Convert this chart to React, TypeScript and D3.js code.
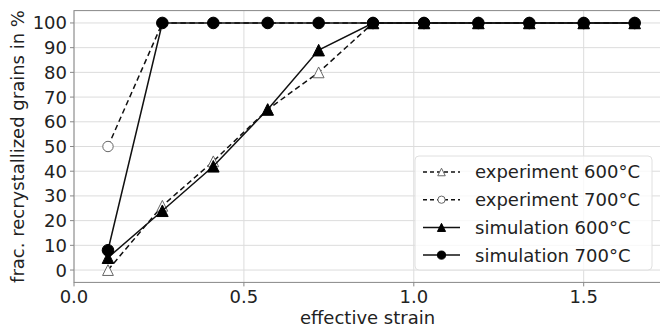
import * as d3 from "d3";

// ── Data ──────────────────────────────────────────────────────
const strain = [0.1, 0.26, 0.41, 0.57, 0.72, 0.88, 1.03, 1.19, 1.34, 1.5, 1.65];
const exp600 = [0, 26, 44, 65, 80, 100, 100, 100, 100, 100, 100];
const exp700 = [50, 100, 100, 100, 100, 100, 100, 100, 100, 100, 100];
const sim600 = [5, 24, 42, 65, 89, 100, 100, 100, 100, 100, 100];
const sim700 = [8, 100, 100, 100, 100, 100, 100, 100, 100, 100, 100];

const xTicks = [0, 0.5, 1.0, 1.5];
const yTicks = [0, 10, 20, 30, 40, 50, 60, 70, 80, 90, 100];

type Series = {
  label: string;
  values: number[];
  dashed: boolean;
  marker: "tri" | "circle";
  filled: boolean;
};

const series: Series[] = [
  { label: "experiment 600°C", values: exp600, dashed: true, marker: "tri", filled: false },
  { label: "experiment 700°C", values: exp700, dashed: true, marker: "circle", filled: false },
  { label: "simulation 600°C", values: sim600, dashed: false, marker: "tri", filled: true },
  { label: "simulation 700°C", values: sim700, dashed: false, marker: "circle", filled: true },
];

// ── Layout ────────────────────────────────────────────────────
const W = 660, H = 329;
const M = { left: 74, right: 661, top: 10.6, bottom: 282.4 };
const FONT = "DejaVu Sans, sans-serif";
const FS = 18;

const x = d3.scaleLinear().domain([0, 1.7275]).range([M.left, M.right]);
const y = d3.scaleLinear().domain([-5, 105]).range([M.bottom, M.top]);

const line = d3.line<number>().x((_d, i) => x(strain[i])).y((d) => y(d));

function Marker({ cx, cy, s, k = 1 }: { cx: number; cy: number; s: Series; k?: number }) {
  const fill = s.filled ? "#000" : "#fff";
  const stroke = s.filled ? "#000" : "#666";
  if (s.marker === "circle")
    return <circle cx={cx} cy={cy} r={(s.filled ? 5.8 : 5.2) * k} fill={fill} stroke={stroke} strokeWidth={1} />;
  const r = (s.filled ? 5.8 : 5.4) * k;
  const d = `M${cx},${cy - r}L${cx + r},${cy + r}L${cx - r},${cy + r}Z`;
  return <path d={d} fill={fill} stroke={stroke} strokeWidth={1} strokeLinejoin="miter" />;
}

export default function App() {
  const legendX = 415, legendY = 156, legendW = 237, legendH = 114;
  const rowY = (i: number) => legendY + 16 + i * 27.7;

  return (
    <svg width={W} height={H} style={{ position: "absolute", left: 0, top: 0, background: "#fff" }}
      fontFamily={FONT}>
      {/* grid */}
      {xTicks.map((t) => (
        <line key={"gx" + t} x1={x(t)} x2={x(t)} y1={M.top} y2={M.bottom} stroke="#dcdcdc" strokeWidth={1} />
      ))}
      {yTicks.map((t) => (
        <line key={"gy" + t} x1={M.left} x2={M.right} y1={y(t)} y2={y(t)} stroke="#dcdcdc" strokeWidth={1} />
      ))}

      {/* series */}
      {series.map((s) => (
        <g key={s.label}>
          <path d={line(s.values) ?? ""} fill="none" stroke="#111" strokeWidth={1.5}
            strokeDasharray={s.dashed ? "5.5,3.5" : undefined} />
          {s.values.map((v, i) => (
            <Marker key={i} cx={x(strain[i])} cy={y(v)} s={s} />
          ))}
        </g>
      ))}

      {/* spines */}
      <rect x={M.left} y={M.top} width={M.right - M.left} height={M.bottom - M.top}
        fill="none" stroke="#888" strokeWidth={1} />

      {/* x axis */}
      {xTicks.map((t) => (
        <g key={"xt" + t}>
          <line x1={x(t)} x2={x(t)} y1={M.bottom} y2={M.bottom + 4} stroke="#888" />
          <text x={x(t)} y={M.bottom + 21} textAnchor="middle" fontSize={FS} fill="#222">
            {d3.format(".1f")(t)}
          </text>
        </g>
      ))}
      <text x={(M.left + M.right) / 2} y={324} textAnchor="middle" fontSize={FS} fill="#222">
        effective strain
      </text>

      {/* y axis */}
      {yTicks.map((t) => (
        <g key={"yt" + t}>
          <line x1={M.left - 4} x2={M.left} y1={y(t)} y2={y(t)} stroke="#888" />
          <text x={M.left - 7} y={y(t)} dy="0.36em" textAnchor="end" fontSize={FS} fill="#222">
            {t}
          </text>
        </g>
      ))}
      <text transform={`translate(24,${(M.top + M.bottom) / 2}) rotate(-90)`} textAnchor="middle"
        fontSize={FS} fill="#222">
        frac. recrystallized grains in %
      </text>

      {/* legend */}
      <rect x={legendX} y={legendY} width={legendW} height={legendH} rx={4}
        fill="#fff" fillOpacity={0.8} stroke="#e0e0e0" />
      {series.map((s, i) => (
        <g key={"lg" + s.label}>
          <line x1={legendX + 8} x2={legendX + 45} y1={rowY(i)} y2={rowY(i)} stroke="#111" strokeWidth={1.5}
            strokeDasharray={s.dashed ? "4,3" : undefined} />
          <Marker cx={legendX + 26.5} cy={rowY(i)} s={s} k={0.7} />
          <text x={legendX + 60} y={rowY(i)} dy="0.36em" fontSize={FS} fill="#222">{s.label}</text>
        </g>
      ))}
    </svg>
  );
}
